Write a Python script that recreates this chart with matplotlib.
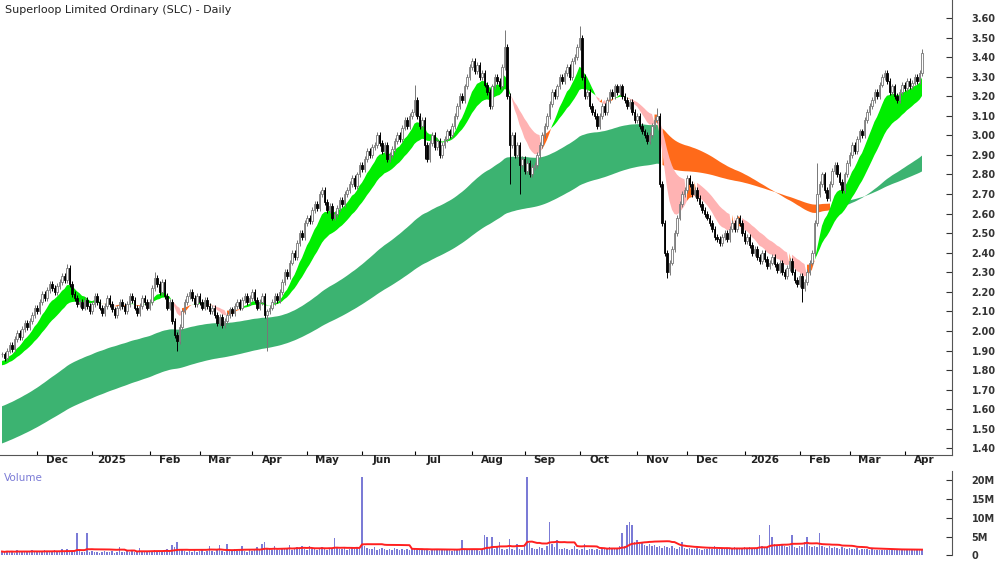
import numpy as np
import pandas as pd
import matplotlib
matplotlib.use("Agg")
import matplotlib.pyplot as plt
from matplotlib.patches import Rectangle

closes = [
1.88,1.86,1.90,1.93,1.91,1.96,1.99,1.97,2.01,2.04,2.02,2.05,
2.08,2.12,2.10,2.15,2.19,2.17,2.21,2.24,2.22,2.20,2.23,2.25,
2.28,2.26,2.32,2.24,2.19,2.17,2.14,2.15,
2.12,2.16,2.13,2.10,2.14,2.18,2.15,2.12,2.09,2.13,2.17,2.14,2.11,2.08,2.12,2.15,2.13,2.10,2.14,2.18,2.16,2.12,2.09,2.13,2.17,2.15,2.12,2.15,
2.22,2.27,2.24,2.20,2.25,2.18,2.12,2.15,2.05,1.98,1.95,
2.02,2.10,2.15,2.18,2.20,
2.17,2.14,2.18,2.15,2.12,2.16,2.13,2.10,2.12,2.08,2.04,2.07,2.03,2.05,
2.08,2.11,2.09,2.13,2.15,2.12,2.16,2.18,2.15,2.17,
2.20,2.16,2.12,2.15,2.18,2.08,2.10,
2.12,2.15,2.18,2.16,2.20,
2.25,2.30,2.28,2.35,2.40,2.38,2.45,2.50,
2.48,2.55,2.58,2.56,2.62,2.65,2.63,2.70,
2.72,2.66,2.62,2.64,2.58,2.60,
2.63,2.67,2.65,2.70,2.72,2.75,
2.78,2.74,2.80,2.85,2.83,2.88,2.92,2.90,2.94,2.95,
3.00,2.96,2.92,2.95,2.88,2.90,
2.93,2.97,3.00,2.98,3.04,3.08,3.05,3.10,3.12,3.18,
3.10,3.05,3.08,2.95,
2.88,2.96,3.00,2.94,2.97,2.90,
2.95,2.98,3.02,3.00,3.05,3.10,
3.15,3.20,3.18,3.25,3.30,3.35,
3.38,3.33,3.36,3.30,3.32,3.26,3.22,3.15,3.25,3.30,3.28,3.25,
3.35,3.45,3.20,2.95,
3.00,2.90,2.95,2.85,
2.88,2.82,2.86,2.80,2.84,2.85,
2.90,2.95,3.00,3.05,
3.10,3.16,3.22,3.20,
3.25,3.30,3.28,3.32,3.35,3.30,3.38,3.40,3.45,3.50,
3.30,3.20,3.22,3.15,3.12,3.10,
3.05,3.10,3.15,3.12,3.18,3.22,3.20,3.25,3.22,3.25,
3.20,3.18,3.15,3.17,3.12,3.08,3.10,3.05,3.02,3.00,2.97,3.00,
3.05,3.08,3.10,2.75,2.55,2.40,2.30,
2.35,2.42,2.50,2.58,2.65,
2.70,2.72,2.78,2.75,
2.70,2.72,2.68,2.65,2.62,2.60,2.58,2.55,2.52,2.48,2.47,2.45,
2.48,2.50,2.47,2.52,2.55,2.52,2.58,2.55,
2.50,2.46,2.48,2.44,2.40,2.42,2.38,2.36,2.40,2.37,2.33,2.35,
2.38,2.34,2.31,2.35,2.30,2.28,2.32,2.36,2.30,2.26,2.24,2.28,2.22,2.25,
2.30,2.35,2.40,2.55,2.70,2.75,
2.80,2.72,2.68,2.75,2.82,2.85,2.80,2.76,2.72,2.80,2.86,2.90,
2.95,2.92,2.98,3.02,3.00,3.08,3.12,3.15,
3.18,3.22,3.20,3.26,3.30,3.32,
3.28,3.22,3.25,3.20,
3.18,3.22,3.26,3.24,3.28,3.25,3.27,3.30,3.28,
3.32,3.42,
]
spike_highs = {26: 2.34, 61: 2.30, 165: 3.26, 201: 3.54, 231: 3.56, 262: 3.14, 326: 2.86, 368: 3.44}
spike_lows = {70: 1.90, 106: 1.90, 203: 2.75, 207: 2.70, 266: 2.27, 320: 2.15, 169: 2.88}

# volume in millions
volumes = [
1.0,0.8,1.2,0.9,1.1,0.7,1.3,1.0,0.9,1.2,0.8,1.1,1.4,0.9,1.0,1.2,0.8,1.5,1.1,0.9,
1.0,1.3,0.9,1.2,1.6,1.1,1.8,1.2,0.9,1.0,6.0,1.1,0.8,1.0,6.0,0.9,1.1,0.8,1.0,0.7,
0.9,1.1,0.8,1.0,1.2,0.7,0.9,2.2,1.0,0.8,1.1,0.9,1.3,0.8,1.0,1.9,0.9,1.1,0.8,1.2,
1.0,1.5,1.2,0.9,1.1,1.3,1.6,1.2,2.8,2.2,3.5,1.8,1.4,1.1,0.9,1.2,1.0,1.3,0.9,1.1,
1.5,1.0,1.2,2.5,1.1,0.9,1.3,2.8,1.2,1.0,2.9,1.1,1.3,1.6,1.2,1.4,2.5,1.1,1.0,1.3,
1.2,1.5,2.2,1.4,3.0,3.5,1.8,1.6,1.3,2.5,1.5,1.4,1.8,2.0,1.6,2.8,1.5,1.7,2.2,1.6,
2.4,1.8,1.5,2.6,1.7,2.0,1.5,1.8,2.3,1.6,1.4,2.0,1.7,4.5,2.2,1.8,1.6,2.0,1.5,1.7,
1.9,1.6,2.2,1.8,21.0,2.5,2.0,1.6,1.8,2.1,1.5,1.7,2.0,1.6,1.4,1.8,1.5,1.9,1.6,1.3,
1.7,1.5,1.8,1.4,1.6,2.0,1.5,1.3,1.7,1.4,1.6,1.2,1.5,1.8,1.4,1.6,1.3,1.5,1.7,1.4,
1.2,1.6,1.5,1.8,4.0,1.6,1.3,1.5,1.4,1.7,1.5,1.2,1.4,5.5,5.0,2.0,5.0,1.8,2.5,3.5,
1.6,1.5,1.8,4.3,1.7,1.5,3.0,1.6,1.4,3.0,21.0,3.2,2.0,1.8,1.6,2.2,1.9,1.5,2.5,9.0,
3.0,2.2,4.0,1.8,1.6,2.0,1.7,1.5,1.8,2.5,1.6,1.4,1.7,3.0,1.5,1.8,1.6,1.4,1.7,1.5,
1.9,1.6,1.8,2.2,2.0,1.7,1.9,2.4,6.0,2.5,8.0,9.0,8.0,3.5,4.0,3.0,3.5,2.8,2.5,3.0,
2.4,2.8,2.2,2.5,2.0,2.6,2.2,1.9,2.4,2.0,1.8,2.2,3.5,1.9,1.7,2.0,1.8,1.6,1.9,1.7,
1.5,1.8,1.6,1.9,1.7,2.4,1.8,1.6,1.9,1.7,2.0,1.8,1.6,2.2,1.9,1.7,2.0,2.3,1.8,2.1,
1.9,1.7,2.0,5.5,2.5,2.2,2.0,8.0,5.0,3.0,2.5,2.8,3.0,2.4,2.2,2.6,5.5,2.3,2.0,2.5,
2.2,3.5,5.0,2.4,2.1,2.6,2.3,6.0,2.5,2.2,2.0,2.4,1.9,2.2,2.0,1.8,2.1,1.9,1.7,2.0,
1.8,1.6,1.9,1.5,1.8,1.6,1.7,1.5,1.6,
]

n = len(closes)
volumes = (volumes + [1.5] * n)[:n]
dates = pd.bdate_range(end="2026-04-10", periods=n)
c = np.array(closes)
o = np.concatenate([[c[0]], c[:-1]])
h = np.maximum(o, c) + 0.015
l = np.minimum(o, c) - 0.015
for k, v in spike_highs.items():
    if k < n: h[k] = max(h[k], v)
for k, v in spike_lows.items():
    if k < n: l[k] = min(l[k], v)

def ema(x, span, seed):
    a = 2 / (span + 1)
    out = np.empty(len(x)); prev = seed
    for i, v in enumerate(x):
        prev = a * v + (1 - a) * prev
        out[i] = prev
    return out

f1 = ema(c, 10, 1.84); f2 = ema(c, 24, 1.82)
s1 = ema(c, 100, 1.61); s2 = ema(c, 180, 1.42)
x = np.arange(n)

fig = plt.figure(figsize=(10, 5.62), dpi=100)
ax = fig.add_axes([0.0, 0.19, 0.952, 0.81])
av = fig.add_axes([0.0, 0.012, 0.952, 0.15])

lower = np.minimum(s1, s2); upper = np.maximum(s1, s2)
bear = f1 < (s1 + s2) / 2
ax.fill_between(x, lower, upper, where=~bear, color="#3cb371", lw=0)
ax.fill_between(x, lower, upper, where=bear, color="#ff6a1a", lw=0)
fup = f1 >= f2
falling = np.concatenate([[0], np.diff(f2)]) < -0.004
ax.fill_between(x, f1, f2, where=fup, color="#00ee00", lw=0, interpolate=True)
ax.fill_between(x, f1, f2, where=(~fup) & falling, color="#ffb3b3", lw=0, interpolate=True)
ax.fill_between(x, f1, f2, where=(~fup) & ~falling, color="#ff6a1a", lw=0, interpolate=True)

w = 0.75
for i in range(n):
    if c[i] >= o[i]:
        ax.vlines(i, l[i], h[i], color="#777777", lw=0.7, zorder=3)
        ax.add_patch(Rectangle((i - w / 2, o[i]), w, max(c[i] - o[i], 0.004), fc="white", ec="#777777", lw=0.6, zorder=4))
    else:
        ax.vlines(i, l[i], h[i], color="black", lw=0.7, zorder=3)
        ax.add_patch(Rectangle((i - w / 2, c[i]), w, o[i] - c[i], fc="black", ec="black", lw=0.6, zorder=4))

xmin, xmax = -0.8, 380
ax.set_xlim(xmin, xmax); av.set_xlim(xmin, xmax)
ax.set_ylim(1.365, 3.692)
ticks = np.round(np.arange(1.4, 3.61, 0.1), 2)
ax.yaxis.tick_right()
ax.set_yticks(ticks)
ax.set_yticklabels([f"{t:.2f}" for t in ticks], fontsize=7, fontweight="bold")
ax.tick_params(axis="y", length=4, direction="in", pad=14, colors="#333333")

s = pd.Series(x, index=dates)
mpos, mlab = [], []
for (yr, mo), grp in s.groupby([dates.year, dates.month]):
    if grp.iloc[0] == 0:
        continue
    mpos.append(grp.iloc[0]); mlab.append(str(yr) if mo == 1 else pd.Timestamp(year=yr, month=mo, day=1).strftime("%b"))
ax.set_xticks(mpos)
ax.set_xticklabels([])
ax.tick_params(axis="x", length=3, direction="in")
for p, lab in zip(mpos, mlab):
    ax.text(p + 8, 1.365, lab, ha="center", va="top", fontsize=7.5, fontweight="bold", color="#222222")
for sp in ["top", "left"]:
    ax.spines[sp].set_visible(False)
ax.spines["right"].set_color("#555555"); ax.spines["bottom"].set_color("#555555")
ax.text(0.005, 0.99, "Superloop Limited Ordinary (SLC) - Daily", transform=ax.transAxes, ha="left", va="top", fontsize=8, color="#222222")

vol = np.array(volumes)
av.bar(x, vol, width=0.5, color="#7b7bd6", lw=0)
vma = pd.Series(vol).rolling(20, min_periods=1).mean().values
av.plot(x, vma, color="#ff2020", lw=1.4)
av.set_ylim(0, 22.5)
av.yaxis.tick_right()
av.set_yticks([0, 5, 10, 15, 20])
av.set_yticklabels(["0", "5M", "10M", "15M", "20M"], fontsize=7, fontweight="bold")
av.tick_params(axis="y", length=4, direction="in", pad=14, colors="#333333")
av.set_xticks([])
for sp in ["top", "left", "bottom"]:
    av.spines[sp].set_visible(False)
av.spines["right"].set_color("#555555")
av.text(0.004, 0.97, "Volume", transform=av.transAxes, ha="left", va="top", fontsize=7.5, color="#7b7bd6")
fig.savefig("out.png", dpi=100)
